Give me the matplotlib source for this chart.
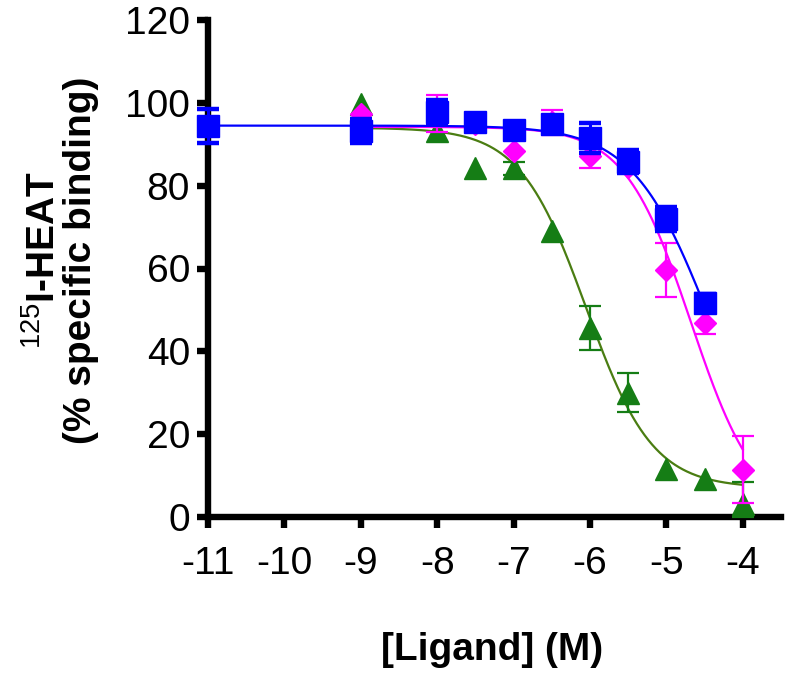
import numpy as np
import matplotlib
matplotlib.use("Agg")
import matplotlib.pyplot as plt

plt.rcParams['font.family'] = ['Liberation Sans', 'DejaVu Sans']
plt.rcParams['mathtext.fontset'] = 'custom'
plt.rcParams['mathtext.rm'] = 'Liberation Sans'
plt.rcParams['mathtext.bf'] = 'Liberation Sans:bold'

# ---- data (log10 [Ligand] M, % specific binding, SEM lower/upper) ----
blue_x = [-11, -9, -8, -7.5, -7, -6.5, -6, -5.5, -5, -4.5]
blue_y = [94.4, 93.3, 97.9, 95.3, 93.5, 94.8, 91.6, 85.8, 72.0, 51.6]
blue_e = [4.0, 2.9, 2.8, 0.0, 0.0, 0.0, 3.6, 2.7, 2.9, 2.2]

mag_x = [-9, -8, -7.5, -7, -6.5, -6, -5.5, -5, -4.5, -4]
mag_y = [97.3, 97.4, 95.0, 88.3, 95.3, 87.2, 84.5, 59.6, 46.9, 11.4]
mag_e = [0.0, 4.5, 0.0, 0.0, 3.0, 3.0, 0.0, 6.5, 2.6, 8.1]

grn_x = [-9, -8, -7.5, -7, -6.5, -6, -5.5, -5, -4.5, -4]
grn_y = [99.7, 93.2, 84.3, 84.2, 69.0, 45.7, 30.0, 11.6, 9.2, 3.2]
grn_lo = [0.0, 0.0, 0.0, 1.6, 0.0, 5.3, 4.7, 0.0, 0.0, 3.2]
grn_hi = [0.0, 0.0, 0.0, 1.6, 0.0, 5.3, 4.7, 0.0, 0.0, 5.3]

# fitted sigmoid parameters (top, bottom, logIC50, hill) and fit ranges
blue_fit = (94.5, 0.0, -4.42, 0.85)
mag_fit = (94.2, 0.0, -4.68, 1.0)
grn_fit = (94.0, 7.0, -6.05, 1.0)
blue_range = (-11, -4.5)
mag_range = (-9, -4)
grn_range = (-9, -4)

xticks = [-11, -10, -9, -8, -7, -6, -5, -4]
yticks = [0, 20, 40, 60, 80, 100, 120]

BLUE = '#0000ff'
MAG = '#ff00ff'
GRN = '#157d15'
GRN_LINE = '#4a7d12'


def sigmoid(x, p):
    top, bottom, c, h = p
    return bottom + (top - bottom) / (1 + 10 ** (h * (x - c)))


fig = plt.figure(figsize=(7.87, 6.75), dpi=100)
ax = fig.add_axes([208 / 787, 1 - 517 / 675, (781 - 208) / 787, (517 - 20) / 675])

for p, rng, col, z in [(grn_fit, grn_range, GRN_LINE, 2), (mag_fit, mag_range, MAG, 4),
                       (blue_fit, blue_range, BLUE, 6)]:
    xs = np.linspace(rng[0], rng[1], 300)
    ax.plot(xs, sigmoid(xs, p), color=col, lw=1.6, zorder=z, clip_on=False)


def draw_series(x, y, lo, hi, marker, color, ms, elw, cth, z):
    x = np.asarray(x, float)
    y = np.asarray(y, float)
    lo = np.asarray(lo, float)
    hi = np.asarray(hi, float)
    m = (lo > 0) | (hi > 0)
    ax.errorbar(x[m], y[m], yerr=[lo[m], hi[m]], fmt='none', ecolor=color,
                elinewidth=elw, capsize=8, capthick=cth, zorder=z)
    ax.plot(x, y, linestyle='none', marker=marker, ms=ms, color=color, mec=color,
            zorder=z + 0.5)


draw_series(grn_x, grn_y, grn_lo, grn_hi, '^', GRN, 15.5, 1.6, 1.6, 3)
draw_series(mag_x, mag_y, mag_e, mag_e, 'D', MAG, 11.5, 1.6, 1.6, 5)
draw_series(blue_x, blue_y, blue_e, blue_e, 's', BLUE, 16, 2.2, 3.2, 7)

for art in ax.get_children():
    try:
        art.set_clip_on(False)
    except Exception:
        pass

ax.set_xlim(-11, -3.5)
ax.set_ylim(0, 120)
ax.set_xticks(xticks)
ax.set_yticks(yticks)
ax.set_xticklabels([str(t) for t in xticks])
ax.set_yticklabels([str(t) for t in yticks])

for s in ['top', 'right']:
    ax.spines[s].set_visible(False)
for s in ['left', 'bottom']:
    ax.spines[s].set_linewidth(4.6)
    ax.spines[s].set_zorder(1)

ax.tick_params(axis='both', direction='out', length=8, width=4.6, labelsize=28)
ax.tick_params(axis='x', pad=13)
ax.tick_params(axis='y', pad=5)

fig.text(492 / 787, 1 - 650 / 675, '[Ligand] (M)', fontsize=28, fontweight='bold',
         ha='center', va='center')
fig.text(62 / 787, 1 - 260 / 675, '$^{\\mathrm{125}}$I-HEAT\n(% specific binding)',
         fontsize=28, fontweight='bold', rotation=90, ha='center', va='center',
         multialignment='center', linespacing=1.0)

fig.savefig('out.png', dpi=100)
